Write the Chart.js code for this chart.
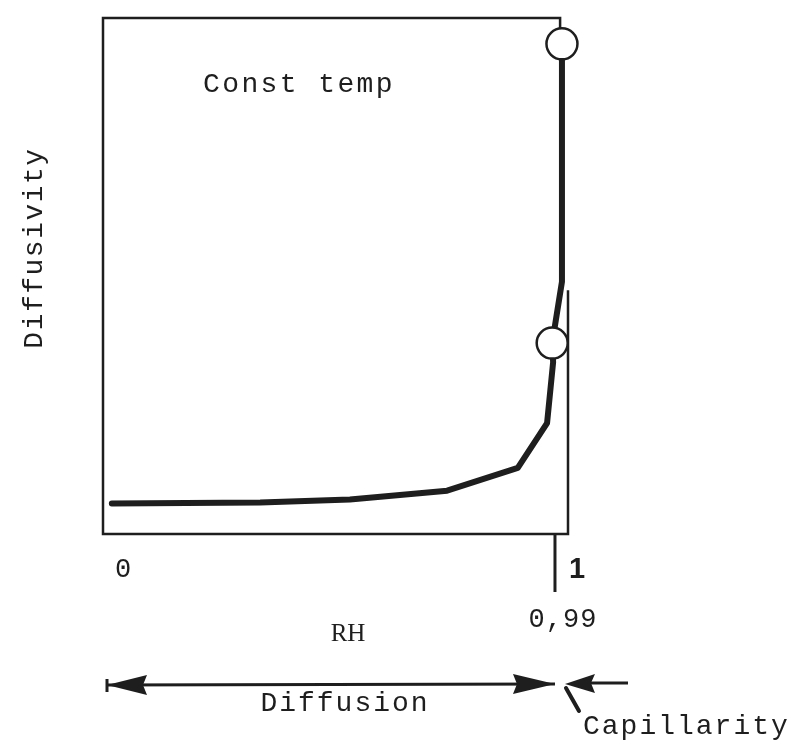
<!DOCTYPE html>
<html>
<head>
<meta charset="utf-8">
<script src="https://cdn.jsdelivr.net/npm/chart.js@4/dist/chart.umd.min.js"></script>
<style>
  html, body { margin: 0; padding: 0; background: #fff; }
  #wrap { width: 811px; height: 746px; position: relative; }
</style>
</head>
<body>
<div id="wrap"><canvas id="c" width="811" height="746"></canvas></div>
<script>
// ---- data (schematic RH position vs. relative diffusivity) ----
const rhValues = [0.019, 0.338, 0.531, 0.740, 0.892, 0.955, 0.968, 0.966, 0.987, 0.987];
const diffusivityValues = [5.9, 6.1, 6.7, 8.4, 12.8, 21.5, 33.3, 37.0, 48.9, 95.0];
const markedPointIndices = [7, 9];
const tickValues = [0, 0.972, 1];
const tickLabels = ['0', '0,99', '1'];
const titleText = 'Const temp';
const xTitle = 'RH';
const yTitle = 'Diffusivity';
const regionLabels = ['Diffusion', 'Capillarity'];

const points = rhValues.map((x, i) => ({ x: x, y: diffusivityValues[i] }));
const INK = '#1e1e1e';
const MONO = '"Liberation Mono", "DejaVu Sans Mono", monospace';

const decor = {
  id: 'decor',
  beforeDatasetsDraw(chart) {
    const ctx = chart.ctx, xs = chart.scales.x, ys = chart.scales.y;
    const L = xs.getPixelForValue(0), R = xs.getPixelForValue(1);
    const T = ys.getPixelForValue(100), B = ys.getPixelForValue(0);
    const topEnd = xs.getPixelForValue(0.983);
    ctx.save();
    ctx.strokeStyle = INK; ctx.lineWidth = 2.5; ctx.lineCap = 'square';
    ctx.beginPath();
    ctx.moveTo(L, T); ctx.lineTo(L, B); ctx.lineTo(R, B);
    ctx.lineTo(R, ys.getPixelForValue(47));
    ctx.moveTo(L, T); ctx.lineTo(topEnd, T); ctx.lineTo(topEnd, ys.getPixelForValue(96));
    ctx.stroke();
    ctx.restore();
  },
  afterDraw(chart) {
    const ctx = chart.ctx, xs = chart.scales.x, ys = chart.scales.y;
    const B = ys.getPixelForValue(0);
    const L = xs.getPixelForValue(0);
    const p99 = xs.getPixelForValue(tickValues[1]);
    const p1 = xs.getPixelForValue(tickValues[2]);
    ctx.save();
    ctx.fillStyle = INK; ctx.strokeStyle = INK;

    ctx.lineWidth = 3;
    ctx.beginPath(); ctx.moveTo(p99, B); ctx.lineTo(p99, B + 58); ctx.stroke();

    ctx.textBaseline = 'alphabetic';
    ctx.font = '27px ' + MONO; ctx.textAlign = 'center';
    ctx.letterSpacing = '0px';
    ctx.fillText(tickLabels[0], L + 20, B + 43);
    ctx.font = '27px ' + MONO; ctx.letterSpacing = '1px';
    ctx.fillText(tickLabels[1], p99 + 8, B + 93);
    ctx.font = 'bold 29px "Liberation Sans", Arial, sans-serif'; ctx.letterSpacing = '0px';
    ctx.fillText(tickLabels[2], p1 + 9, B + 44);

    ctx.font = '28px ' + MONO; ctx.letterSpacing = '2.4px'; ctx.textAlign = 'left';
    ctx.fillText(titleText, 203, 92);

    ctx.font = '25px "Liberation Serif", "Times New Roman", serif'; ctx.letterSpacing = '0px';
    ctx.textAlign = 'center';
    ctx.fillText(xTitle, 348, 641);
    ctx.save();
    ctx.translate(42, 248); ctx.rotate(-Math.PI / 2);
    ctx.font = '28px ' + MONO; ctx.letterSpacing = '1.5px';
    ctx.fillText(yTitle, 0, 0);
    ctx.restore();

    const ay = 685;
    ctx.lineWidth = 3;
    ctx.beginPath(); ctx.moveTo(L + 4, ay); ctx.lineTo(p99, ay - 1); ctx.stroke();
    ctx.beginPath(); ctx.moveTo(L + 4, ay - 6); ctx.lineTo(L + 4, ay + 7); ctx.stroke();
    ctx.beginPath(); ctx.moveTo(L + 4, ay); ctx.lineTo(L + 44, ay - 10); ctx.lineTo(L + 40, ay); ctx.lineTo(L + 44, ay + 10); ctx.closePath(); ctx.fill();
    ctx.beginPath(); ctx.moveTo(p99, ay - 1); ctx.lineTo(p99 - 42, ay - 11); ctx.lineTo(p99 - 38, ay - 1); ctx.lineTo(p99 - 42, ay + 9); ctx.closePath(); ctx.fill();

    const cy = 683;
    ctx.beginPath(); ctx.moveTo(628, cy); ctx.lineTo(590, cy); ctx.stroke();
    ctx.beginPath(); ctx.moveTo(p99 + 10, cy + 1); ctx.lineTo(p99 + 40, cy - 9); ctx.lineTo(p99 + 36, cy); ctx.lineTo(p99 + 40, cy + 10); ctx.closePath(); ctx.fill();
    ctx.lineWidth = 4; ctx.lineCap = 'round';
    ctx.beginPath(); ctx.moveTo(p99 + 11, cy + 5); ctx.lineTo(p99 + 24, cy + 28); ctx.stroke();

    ctx.font = '28px ' + MONO; ctx.letterSpacing = '2px'; ctx.textAlign = 'center';
    ctx.fillText(regionLabels[0], 345, 711);
    ctx.textAlign = 'left';
    ctx.fillText(regionLabels[1], 583, 734);
    ctx.restore();
  }
};

new Chart(document.getElementById('c'), {
  type: 'scatter',
  data: {
    datasets: [{
      data: points,
      showLine: true,
      clip: false,
      borderColor: INK,
      borderWidth: 6,
      tension: 0,
      borderJoinStyle: 'round',
      borderCapStyle: 'round',
      pointRadius: (c) => markedPointIndices.includes(c.dataIndex) ? 15.5 : 0,
      pointHoverRadius: (c) => markedPointIndices.includes(c.dataIndex) ? 15.5 : 0,
      pointBackgroundColor: '#ffffff',
      pointBorderColor: INK,
      pointBorderWidth: 2.5
    }]
  },
  options: {
    responsive: false,
    animation: false,
    events: [],
    layout: { padding: { left: 103, right: 811 - 568, top: 12, bottom: 746 - 534 } },
    plugins: { legend: { display: false }, tooltip: { enabled: false } },
    scales: {
      x: { type: 'linear', min: 0, max: 1, display: false },
      y: { type: 'linear', min: 0, max: 100, display: false }
    }
  },
  plugins: [decor]
});
</script>
</body>
</html>
